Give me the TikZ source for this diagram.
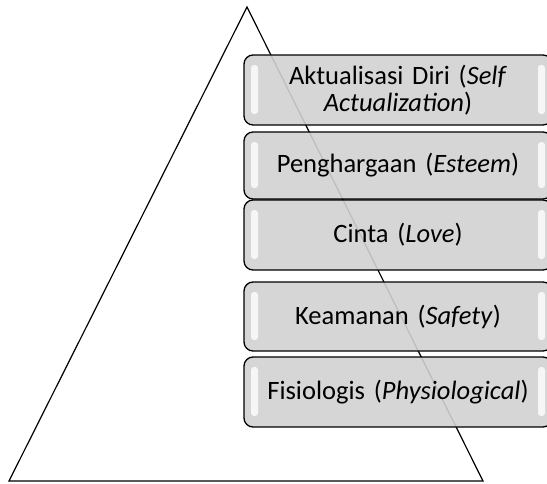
\documentclass[tikz,border=0pt]{standalone}
\usepackage{fontspec}
\setmainfont{Carlito}
\usetikzlibrary{positioning}

\tikzset{
  level/.style={draw, line width=1.3pt, rounded corners=9pt, fill=black!18,
    fill opacity=0.9, text opacity=1, minimum width=308pt, inner sep=0pt,
    align=center, text width=290pt,
    font=\fontsize{26.5}{27}\selectfont,
    path picture={
      \fill[white, fill opacity=0.8, rounded corners=3pt]
        ([xshift=7pt,yshift=-10pt]path picture bounding box.north west) rectangle
        ([xshift=14pt,yshift=11pt]path picture bounding box.south west);
      \fill[white, fill opacity=0.8, rounded corners=3pt]
        ([xshift=-7pt,yshift=-10pt]path picture bounding box.north east) rectangle
        ([xshift=-14pt,yshift=11pt]path picture bounding box.south east);
    }},
}

\begin{document}
\begin{tikzpicture}[x=1pt,y=-1pt]
	\useasboundingbox (0,0) rectangle (547,483);
	% pyramid
	\coordinate (apex) at (247,7);
	\coordinate (baseL) at (9,481);
	\coordinate (baseR) at (483,481);
	\draw[line width=1.2pt, line join=miter] (apex) -- (baseR) -- (baseL) -- cycle;
	% levels, cut off by the right page edge
	\node[level, minimum height=70pt] (self) at (398,90) {Aktualisasi Diri (\textit{Self}\\\textit{Actualization})};
	\node[level, minimum height=67pt] (esteem) at (398,165.5) {Penghargaan (\textit{Esteem})};
	\node[level, minimum height=70pt] (love) at (398,235) {Cinta (\textit{Love})};
	\node[level, minimum height=69pt] (safety) at (398,316.5) {Keamanan (\textit{Safety})};
	\node[level, minimum height=70pt] (physio) at (398,392) {Fisiologis (\textit{Physiological})};
\end{tikzpicture}
\end{document}
